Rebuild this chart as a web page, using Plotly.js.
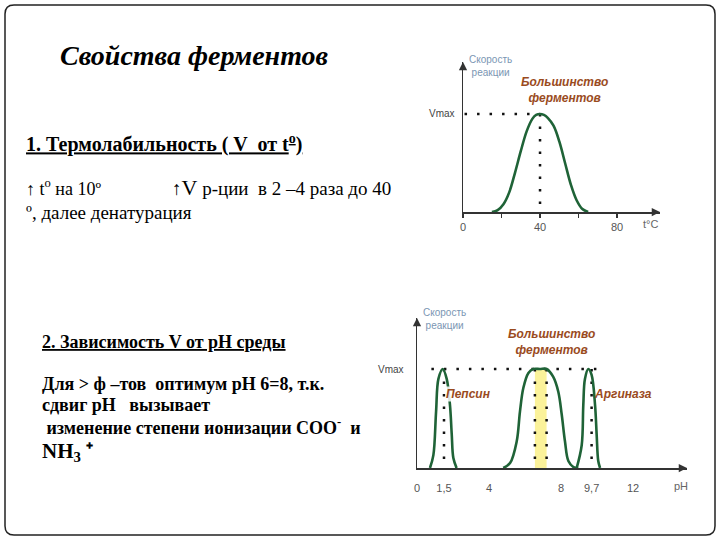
<!DOCTYPE html>
<html><head><meta charset="utf-8">
<script src="https://cdn.plot.ly/plotly-3.0.1.min.js"></script>
<style>body{margin:0;padding:0;background:#fff}#chart{width:720px;height:540px}</style>
</head><body><div id="chart"></div>
<script>
// ---- Data: temperature chart ----
const tempX = [15,18,21,24,27,30,33,36,38,40,42,44,47,50,53,56,59,62,65];
const tempV = [0,0.02,0.08,0.2,0.4,0.62,0.82,0.95,0.99,1,0.99,0.96,0.88,0.72,0.5,0.28,0.12,0.03,0];
const tempOpt = 40;
const tempTicks = [0,20,40,60,80];
const tempTickText = ['0','','40','','80'];
const vmax = 1;

// ---- Data: pH chart ----
const pepsinPH = [0.72,0.91,1.06,1.19,1.43,1.65,1.83,1.93,2.02,2.2];
const pepsinV  = [0,0.13,0.57,0.9,1,0.9,0.64,0.34,0.1,0];
const mostPH = [4.79,5.17,5.54,5.72,5.91,6.19,6.46,6.83,7.2,7.57,7.85,8.04,8.22,8.41,8.69,8.96];
const mostV  = [0,0.05,0.27,0.57,0.81,0.96,1,1,1,0.92,0.77,0.54,0.27,0.07,0.01,0];
const argPH = [8.87,9.15,9.24,9.33,9.52,9.7,9.89,9.98,10.07,10.17];
const argV  = [0,0.23,0.64,0.9,1,0.94,0.64,0.34,0.07,0];
const pepsinOpt = 1.5;
const mostOpt = [6.55, 7.2];
const argOpt = 9.7;
const vmaxLinePH = [0.8, 10.2];
const phTicks = [0,1.5,4,8,9.7,12];
const phTickText = ['0','1,5','4','8','9,7','12'];

// ---- helpers (layout only) ----
const W = 720, H = 540;
const px = x => x / W;
const py = y => 1 - y / H;
const green = '#1f6337';
const brown = '#9a4b1e';
const serif = 'Liberation Serif, Times New Roman, serif';
const sans = 'Liberation Sans, Arial, sans-serif';
const dotLine = {color:'#111', width:2.5, dash:'2.5px,10px'};

const curve = (x, y, xa, ya) => ({x, y, xaxis:xa, yaxis:ya, mode:'lines', type:'scatter',
  line:{color:green, width:2.6, shape:'spline', smoothing:1}, hoverinfo:'skip', cliponaxis:false});
const dotted = (x, y, xa, ya) => ({x, y, xaxis:xa, yaxis:ya, mode:'lines', type:'scatter',
  line:dotLine, hoverinfo:'skip', cliponaxis:false});

const traces = [
  // chart 1
  dotted([0.8, tempOpt], [vmax, vmax], 'x', 'y'),
  dotted([tempOpt, tempOpt], [vmax, 0], 'x', 'y'),
  curve(tempX, tempV, 'x', 'y'),
  // chart 2
  {x:[mostOpt[0], mostOpt[0], mostOpt[1], mostOpt[1]], y:[0, vmax*0.99, vmax*0.99, 0],
   xaxis:'x2', yaxis:'y2', type:'scatter', mode:'lines', fill:'toself',
   fillcolor:'#fbf29a', line:{width:0}, hoverinfo:'skip'},
  dotted(vmaxLinePH, [vmax, vmax], 'x2', 'y2'),
  dotted([pepsinOpt, pepsinOpt], [vmax, 0], 'x2', 'y2'),
  dotted([mostOpt[0], mostOpt[0]], [vmax, 0], 'x2', 'y2'),
  dotted([mostOpt[1], mostOpt[1]], [vmax, 0], 'x2', 'y2'),
  dotted([argOpt, argOpt], [vmax, 0], 'x2', 'y2'),
  curve(pepsinPH, pepsinV, 'x2', 'y2'),
  curve(mostPH, mostV, 'x2', 'y2'),
  curve(argPH, argV, 'x2', 'y2')
];

const axisCommon = {showgrid:false, zeroline:false, showline:true, linecolor:'#333', linewidth:1.5, fixedrange:true};

const ann = (text, x, y, size, opts={}) => Object.assign({
  text, x:px(x), y:py(y), xref:'paper', yref:'paper', showarrow:false,
  xanchor:'left', yanchor:'middle', font:{family:serif, size, color:'#000'}}, opts);

const arrowHead = (x, y, xa, ya, ax, ay) => ({x, y, xref:xa, yref:ya, ax, ay, axref:'pixel', ayref:'pixel',
  text:'', showarrow:true, arrowhead:2, arrowsize:1.1, arrowwidth:1.5, arrowcolor:'#333'});

const annotations = [
  ann('<b><i>Свойства ферментов</i></b>', 58, 55, 28),
  ann('<b><u>1. Термолабильность ( V  от t<sup>o</sup>)</u></b>', 24, 143, 20),
  ann('↑ t<sup>o</sup> на 10º', 24, 188, 18),
  ann('↑<span style="font-size:22px">V</span> р-ции  в 2 –4 раза до 40', 170, 188, 19),
  ann('º, далее денатурация', 24, 213, 19),
  ann('<b><u>2. Зависимость V от pH среды</u></b>', 40, 342, 18),
  ann('<b>Для &gt; ф –тов  оптимум pH 6=8, т.к.</b>', 40, 384, 18),
  ann('<b>сдвиг pH   вызывает</b>', 40, 405, 18),
  ann('<b> изменение степени ионизации COO<sup>-</sup>  и</b>', 40, 426, 18),
  ann('<b>NH<sub>3</sub> ⁺</b>', 40, 452, 21),
  // chart 1 labels
  ann('Скорость<br>реакции', 467, 66, 10, {font:{family:sans, size:10, color:'#7b96b3'}}),
  ann('<b><i>Большинство<br>ферментов</i></b>', 519, 90, 12, {font:{family:sans, size:12, color:brown}}),
  ann('Vmax', 457, 113, 10, {xanchor:'right', font:{family:sans, size:10, color:'#444'}}),
  ann('t°C', 660, 224, 11, {xanchor:'right', font:{family:sans, size:11, color:'#666'}}),
  // chart 2 labels
  ann('Скорость<br>реакции', 421, 319, 10, {font:{family:sans, size:10, color:'#7b96b3'}}),
  ann('<b><i>Большинство<br>ферментов</i></b>', 506, 342, 12, {font:{family:sans, size:12, color:brown}}),
  ann('<b><i>Пепсин</i></b>', 445, 394, 12, {font:{family:sans, size:12, color:brown}, bgcolor:'rgba(255,255,255,0.85)', borderpad:0}),
  ann('<b><i>Аргиназа</i></b>', 592, 394, 12, {font:{family:sans, size:12, color:brown}}),
  ann('Vmax', 406, 369, 10, {xanchor:'right', font:{family:sans, size:10, color:'#444'}}),
  ann('pH', 690, 486, 11, {xanchor:'right', font:{family:sans, size:11, color:'#666'}}),
  // axis arrows
  arrowHead(102.3, 0, 'x', 'y', -9, 0),
  arrowHead(0, 1.53, 'x', 'y', 0, 9),
  arrowHead(15, 0, 'x2', 'y2', -9, 0),
  arrowHead(0, 1.515, 'x2', 'y2', 0, 9)
];

// rounded border
const bx0 = 5, by0 = 5, bx1 = 715, by1 = 535, r = 9;
const P = (x, y) => `${px(x)},${py(y)}`;
const borderPath = `M ${P(bx0+r,by0)} L ${P(bx1-r,by0)} Q ${P(bx1,by0)} ${P(bx1,by0+r)} L ${P(bx1,by1-r)} Q ${P(bx1,by1)} ${P(bx1-r,by1)} L ${P(bx0+r,by1)} Q ${P(bx0,by1)} ${P(bx0,by1-r)} L ${P(bx0,by0+r)} Q ${P(bx0,by0)} ${P(bx0+r,by0)} Z`;

const layout = {
  width: W, height: H, margin:{l:0,r:0,t:0,b:0,pad:0},
  paper_bgcolor:'#fff', plot_bgcolor:'rgba(0,0,0,0)', showlegend:false,
  xaxis: Object.assign({}, axisCommon, {domain:[px(463), px(660)], range:[0,102.3], anchor:'y',
    tickvals:tempTicks, ticktext:tempTickText, ticks:'outside', ticklen:4, tickcolor:'#333', tickwidth:1.2,
    tickfont:{family:sans, size:11, color:'#555'}}),
  yaxis: Object.assign({}, axisCommon, {domain:[py(212), py(62)], range:[0,1.53], anchor:'x', showticklabels:false, ticks:''}),
  xaxis2: Object.assign({}, axisCommon, {domain:[px(417), px(687)], range:[0,15], anchor:'y2',
    tickvals:phTicks, ticktext:phTickText, ticks:'', ticklabelstandoff:9,
    tickfont:{family:sans, size:11, color:'#555'}}),
  yaxis2: Object.assign({}, axisCommon, {domain:[py(468), py(318)], range:[0,1.515], anchor:'x2', showticklabels:false, ticks:''}),
  annotations,
  shapes:[{type:'path', xref:'paper', yref:'paper', path:borderPath, line:{color:'#222', width:1.5}}]
};

Plotly.newPlot('chart', traces, layout, {staticPlot:true, displayModeBar:false});
</script></body></html>
